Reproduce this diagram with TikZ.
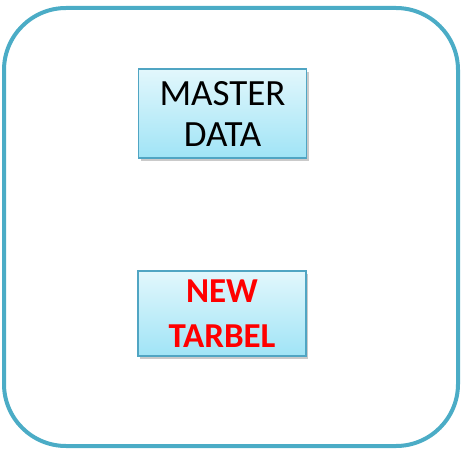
\documentclass[tikz,border=0pt]{standalone}
\usepackage{fontspec}
\setmainfont{Carlito}
\usetikzlibrary{shadows}
\definecolor{frame}{RGB}{75,172,198}
\definecolor{boxtop}{RGB}{226,247,252}
\definecolor{boxbot}{RGB}{160,228,246}
\definecolor{boxline}{RGB}{80,165,195}
\definecolor{redtxt}{RGB}{255,0,0}
\tikzset{
  databox/.style={draw=boxline, line width=1.4pt, top color=boxtop, bottom color=boxbot,
    minimum width=168pt, align=center, inner sep=0pt,
    drop shadow={shadow xshift=2pt, shadow yshift=-3pt, opacity=0.35, fill=black!60},
    font=\fontsize{37}{41}\selectfont},
}
\begin{document}
\begin{tikzpicture}[x=1pt,y=-1pt]
\useasboundingbox (0,0) rectangle (462,454);
\draw[frame, line width=4pt, rounded corners=62pt] (4,8) rectangle (458,446);
\node[databox, minimum height=89pt] (master) at (222.5,113.5) {MASTER\\DATA};
\node[databox, minimum height=85pt, text=redtxt, font=\fontsize{35}{45}\selectfont\bfseries] (newt) at (222,313.5) {NEW\\TARBEL};
\end{tikzpicture}
\end{document}
